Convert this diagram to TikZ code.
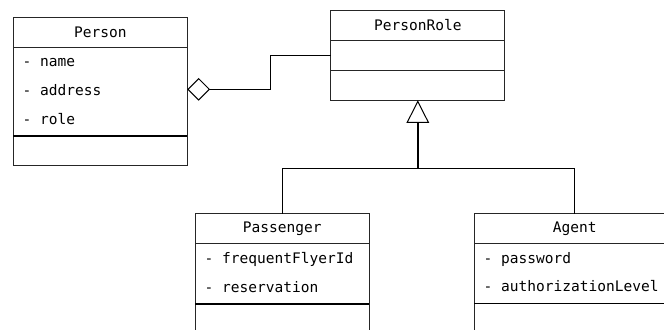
\documentclass[tikz,border=0pt]{standalone}
\usepackage{fontspec}
\setmonofont{DejaVu Sans Mono}
\usetikzlibrary{positioning, arrows.meta}

\newcommand{\attr}[1]{\rule[-7.85pt]{0pt}{21.5pt}-\hspace{0.602em}#1}

\tikzset{
	umlpart/.style={draw=black!85, line width=0.75pt, inner xsep=7pt, inner ysep=0pt, outer sep=0pt, font=\ttfamily\fontsize{10.9}{21.5}\selectfont},
	umltitle/.style={umlpart, minimum width=#1, minimum height=22.5pt},
	umlattrs/.style={umlpart, align=left, text width=#1},
	umlops/.style={umlpart, minimum width=#1, minimum height=22.5pt},
	umlsep/.style={black, line width=1.3pt},
	umlline/.style={black, line width=0.75pt},
	aggr/.style={umlline, {Diamond[open, length=17pt, width=17pt]}-},
	inherit/.style={black, line width=1.2pt, -{Triangle[open, length=17pt, width=17pt, line width=0.75pt]}}
}

\begin{document}
\begin{tikzpicture}[x=0.75pt, y=-0.75pt]
	\useasboundingbox (0, 0) rectangle (664, 329);

	% Person
	\node[umltitle=130.5pt] (person) at (100.3, 32.7) {Person};
	\node[umlattrs=116.5pt, minimum height=66pt, below=0pt of person] (person attrs) {\attr{name}\\\attr{address}\\\attr{role}};
	\node[umlops=130.5pt, below=0pt of person attrs] (person ops) {};

	% PersonRole
	\node[umltitle=130.5pt] (role) at (417.8, 25.3) {PersonRole};
	\node[umlops=130.5pt, below=0pt of role] (role attrs) {};
	\node[umlops=130.5pt, below=0pt of role attrs] (role ops) {};

	% Passenger
	\node[umltitle=130.5pt] (passenger) at (282.2, 228.8) {Passenger};
	\node[umlattrs=116.5pt, minimum height=45pt, below=0pt of passenger] (passenger attrs) {\attr{frequentFlyerId}\\\attr{reservation}};
	\node[umlops=130.5pt, below=0pt of passenger attrs] (passenger ops) {};

	% Agent
	\node[umltitle=150.6pt] (agent) at (574.7, 228.5) {Agent};
	\node[umlattrs=136.6pt, minimum height=45pt, below=0pt of agent] (agent attrs) {\attr{password}\\\attr{authorizationLevel}};
	\node[umlops=150.6pt, below=0pt of agent attrs] (agent ops) {};

	\draw[umlsep] (person attrs.south west) -- (person attrs.south east);
	\draw[umlsep] (passenger attrs.south west) -- (passenger attrs.south east);
	\draw[umlsep] (agent attrs.south west) -- (agent attrs.south east);

	% Connectors
	\draw[aggr] ([yshift=1.8pt]person attrs.east) -- ++(83, 0) |- (role attrs.west);
	\coordinate[below=51.2pt of role ops] (fork);
	\draw[umlline] (passenger.north) |- (fork) -| (agent.north);
	\draw[inherit] (fork) -- (role ops.south);
\end{tikzpicture}
\end{document}
